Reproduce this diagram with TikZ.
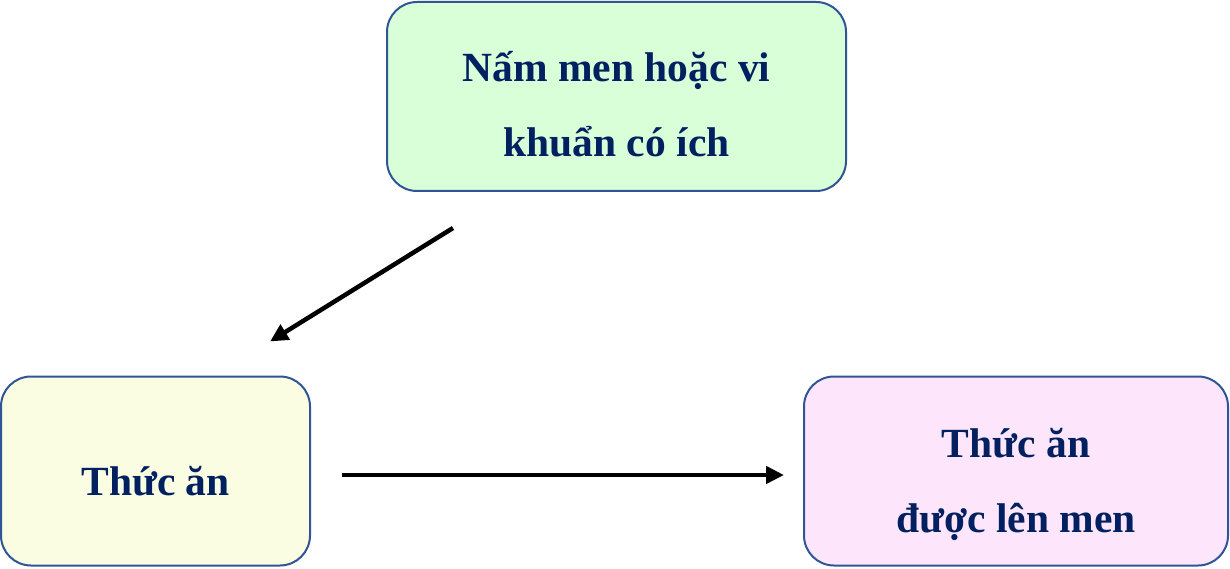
\documentclass[tikz,border=0pt]{standalone}
\usepackage{fontspec}
\setmainfont{Liberation Serif}
\usetikzlibrary{arrows.meta,positioning}
\definecolor{boxline}{HTML}{2F5597}
\definecolor{boxtext}{HTML}{002060}
\definecolor{yeastfill}{HTML}{D9FFD9}
\definecolor{foodfill}{HTML}{FBFDE3}
\definecolor{fermfill}{HTML}{FDE5FB}

\begin{document}
\begin{tikzpicture}[x=1pt,y=1pt,align=center]
\tikzstyle{stage}=[rectangle,rounded corners=30pt,draw=boxline,line width=2pt,text=boxtext,font=\fontsize{41.5}{75}\selectfont\bfseries,minimum height=189pt,inner sep=0pt]
\tikzstyle{flow}=[-{Triangle[length=18pt,width=17pt]},line width=4.5pt]

\useasboundingbox (0,0) rectangle (1230,568);

\node[stage,fill=yeastfill,minimum width=459pt,text height=121pt,text depth=0pt] (yeast) at (616.5,471.5) {Nấm men hoặc vi\\khuẩn có ích};
\node[stage,fill=foodfill,minimum width=309pt,text height=48pt,text depth=0pt] (food) at (155.5,97) {Thức ăn};
\node[stage,fill=fermfill,minimum width=424pt,text height=122pt,text depth=0pt] (fermented) at (1016,97) {Thức ăn\\được lên men};

\coordinate[below left=36pt and 163.5pt of yeast.south] (yeast_out);
\coordinate[above right=34pt and 114.5pt of food.north] (food_in);

\draw[flow] (yeast_out) -- (food_in);
\draw[flow,shorten <=31pt,shorten >=19pt] ([yshift=-4pt]food.east) -- ([yshift=-4pt]fermented.west);
\end{tikzpicture}
\end{document}
